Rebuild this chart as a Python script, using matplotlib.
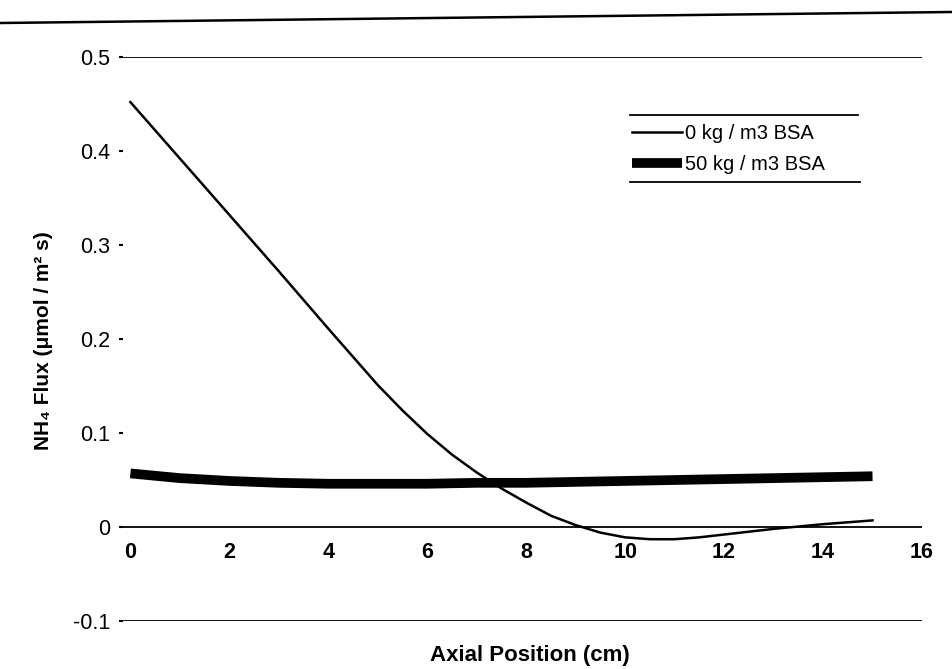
"""
NH4 flux along the axial position, with and without BSA.
"""

import matplotlib
matplotlib.use("Agg")
import matplotlib.pyplot as plt
from matplotlib.lines import Line2D

plt.rcParams.update({
    "font.family": ["Liberation Sans", "DejaVu Sans"],
    "figure.facecolor": "white",
    "axes.facecolor": "white",
})

# ── data ────────────────────────────────────────────────────────────────
x_0bsa = [0, 1, 2, 3, 4, 4.5, 5, 5.5, 6, 6.5, 7, 7.5, 8, 8.5, 9, 9.5, 10,
          10.5, 11, 11.5, 12, 12.5, 13, 14, 15]
flux_0bsa = [0.452, 0.392, 0.332, 0.272, 0.211, 0.181, 0.151, 0.124, 0.099,
             0.077, 0.058, 0.041, 0.026, 0.012, 0.002, -0.006, -0.011,
             -0.013, -0.013, -0.011, -0.008, -0.005, -0.002, 0.003, 0.007]

x_50bsa = [0, 1, 2, 3, 4, 5, 6, 7, 8, 9, 10, 11, 12, 13, 14, 15]
flux_50bsa = [0.057, 0.052, 0.049, 0.047, 0.046, 0.046, 0.046, 0.047, 0.047,
              0.048, 0.049, 0.050, 0.051, 0.052, 0.053, 0.054]

series_labels = ["0 kg / m3 BSA", "50 kg / m3 BSA"]
x_ticks = [0, 2, 4, 6, 8, 10, 12, 14, 16]
y_ticks = [-0.1, 0, 0.1, 0.2, 0.3, 0.4, 0.5]
y_tick_labels = ["-0.1", "0", "0.1", "0.2", "0.3", "0.4", "0.5"]
grid_levels = [0.5, 0, -0.1]

W, H = 952, 669
fig = plt.figure(figsize=(W / 100, H / 100), dpi=100)
ax = fig.add_axes([123 / W, 1 - 621 / H, (922 - 123) / W, (621 - 57) / H])

for lvl in grid_levels:
    ax.axhline(lvl, color="black", lw=1.3, zorder=1)

l0, = ax.plot(x_0bsa, flux_0bsa, color="black", lw=1.8, zorder=3)
l50, = ax.plot(x_50bsa, flux_50bsa, color="black", lw=7,
               solid_capstyle="butt", zorder=2)

ax.set_xlim(-0.15, 16)
ax.set_ylim(-0.1, 0.5)

for side in ["top", "right", "left"]:
    ax.spines[side].set_visible(False)
ax.spines["bottom"].set_position(("data", 0))
ax.spines["bottom"].set_visible(False)

ax.set_xticks(x_ticks)
ax.set_xticklabels([str(t) for t in x_ticks])
ax.tick_params(axis="x", length=0, pad=11, labelsize=15.5)
for lab in ax.get_xticklabels():
    lab.set_fontweight("bold")

ax.set_yticks(y_ticks)
ax.set_yticklabels(y_tick_labels)
ax.tick_params(axis="y", direction="out", length=3, width=1.5, pad=6,
               labelsize=15.5)

fig.text(44 / W, 1 - 341 / H, "NH\u2084 Flux (\u03bcmol / m\u00b2 s)",
         rotation=90, ha="center", va="center", fontsize=15,
         fontweight="bold")
fig.text(530 / W, 1 - 655 / H, "Axial Position (cm)", ha="center",
         va="center", fontsize=16, fontweight="bold")

fig.legend([l0, l50], series_labels, loc="upper left",
           bbox_to_anchor=(632 / W, 1 - 124 / H), frameon=False,
           fontsize=14.5, handlelength=2.5, handletextpad=0.15,
           labelspacing=0.6, borderpad=0, borderaxespad=0)

# legend rules (top and bottom only) and page edge line
fig.add_artist(Line2D([630 / W, 858 / W], [1 - 115 / H, 1 - 115 / H],
                      color="black", lw=1.3))
fig.add_artist(Line2D([630 / W, 860 / W], [1 - 182 / H, 1 - 182 / H],
                      color="black", lw=1.3))
fig.add_artist(Line2D([0, 1], [1 - 23 / H, 1 - 12 / H], color="black", lw=1.8))

fig.savefig("out.png", dpi=100)
